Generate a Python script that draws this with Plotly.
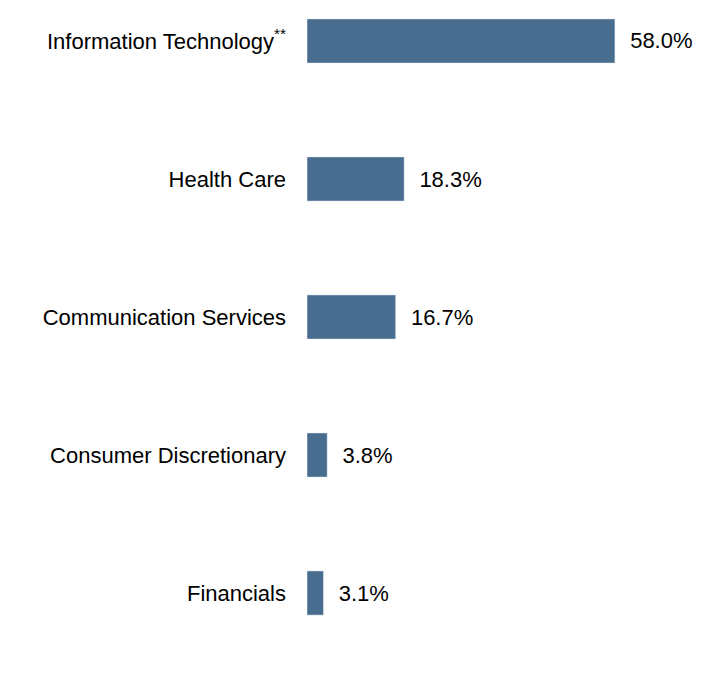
import plotly.graph_objects as go

sectors = ["Information Technology<sup>**</sup>", "Health Care", "Communication Services",
           "Consumer Discretionary", "Financials"]
weights = [58.0, 18.3, 16.7, 3.8, 3.1]
labels = [f"  {w:.1f}%" for w in weights]

fig = go.Figure(go.Bar(
    x=weights, y=list(range(len(sectors))), orientation="h",
    width=0.32, marker_color="#486d8f",
    text=labels, textposition="outside", cliponaxis=False,
    textfont=dict(size=22, color="#000000"),
))
fig.update_layout(
    width=720, height=696, margin=dict(l=299, r=0, t=0, b=0, pad=0, autoexpand=False),
    plot_bgcolor="white", paper_bgcolor="white",
    font=dict(family="Arial, Liberation Sans", size=22, color="#000000"),
    showlegend=False,
)
fig.update_xaxes(range=[0, 79.3], visible=False)
fig.update_yaxes(range=[4.804, -0.239], tickvals=list(range(len(sectors))), ticktext=sectors,
                 showgrid=False, zeroline=False, showline=False, ticks="", ticklabelstandoff=20)
fig.write_html("out.html")
